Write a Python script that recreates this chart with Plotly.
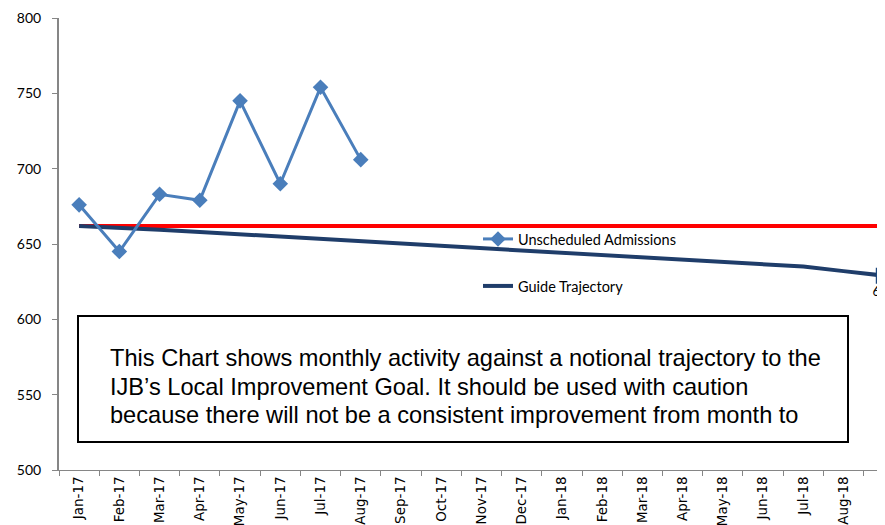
import plotly.graph_objects as go

months = [
    "Jan-17", "Feb-17", "Mar-17", "Apr-17", "May-17", "Jun-17", "Jul-17",
    "Aug-17", "Sep-17", "Oct-17", "Nov-17", "Dec-17", "Jan-18", "Feb-18",
    "Mar-18", "Apr-18", "May-18", "Jun-18", "Jul-18", "Aug-18", "Sep-18",
]
admissions = [676, 645, 683, 679, 745, 690, 754, 706]
trajectory = [
    662, 661, 659.5, 658, 656.5, 655, 653.5, 652, 650.5, 649, 647.5,
    646, 644.5, 643, 641.5, 640, 638.5, 637, 635, 632, 629,
]
goal = [662] * len(months)
note_lines = [
    "This Chart shows monthly activity against a notional trajectory to the",
    "IJB\u2019s Local Improvement Goal. It should be used with caution",
    "because there will not be a consistent improvement from month to",
]

# the page body adds an 8px margin, so the figure starts 8px in
OFF = 8
W, H = 885 - OFF, 525 - OFF
L, T = 59 - OFF, 18 - OFF
B = H - (470 - OFF)
pw, ph = W - L, H - T - B


def px(x):
    return (x - OFF - L) / pw


def py(y):
    return (H - B - (y - OFF)) / ph


fig = go.Figure()
fig.add_trace(go.Scatter(
    x=months, y=goal, mode="lines", showlegend=False,
    line={"color": "#FF0000", "width": 4},
))
fig.add_trace(go.Scatter(
    x=months, y=trajectory, mode="lines", name="Guide Trajectory",
    line={"color": "#1F3D6A", "width": 4}, legend="legend2",
))
fig.add_trace(go.Scatter(
    x=months[-1:], y=trajectory[-1:], mode="markers+text", showlegend=False,
    text=[str(v) for v in trajectory[-1:]], textposition="bottom center",
    textfont={"family": "Lato, sans-serif", "size": 13, "color": "#000"},
    marker={"symbol": "square", "size": 16, "color": "#1F497D"},
    cliponaxis=False,
))
fig.add_trace(go.Scatter(
    x=months[:len(admissions)], y=admissions, mode="lines+markers",
    name="Unscheduled Admissions",
    line={"color": "#4A7EBB", "width": 3},
    marker={"symbol": "diamond", "size": 12, "color": "#4A7EBB"},
))

fig.add_shape(
    type="rect", xref="paper", yref="paper",
    x0=px(78), x1=px(848), y0=py(442), y1=py(316),
    line={"color": "#000", "width": 2}, fillcolor="white", layer="above",
)
for i, line in enumerate(note_lines):
    fig.add_annotation(
        xref="paper", yref="paper", x=px(108), y=py(358 + 28.5 * i),
        xanchor="left", yanchor="middle", showarrow=False, text=line,
        font={"family": "Liberation Sans, Arial", "size": 23.6, "color": "#000"},
    )

legend_style = dict(
    xanchor="left", yanchor="middle", bgcolor="rgba(0,0,0,0)",
    font={"family": "Lato, sans-serif", "size": 14.5, "color": "#000"},
    itemwidth=30,
)
fig.update_layout(
    width=W, height=H,
    margin={"l": L, "r": 0, "t": T, "b": B, "pad": 0},
    plot_bgcolor="white", paper_bgcolor="white",
    legend={**legend_style, "x": px(478), "y": py(239)},
    legend2={**legend_style, "x": px(478), "y": py(286)},
    xaxis={
        "type": "category", "range": [-0.5, 20.03], "tickson": "boundaries",
        "showgrid": False, "showline": True, "linecolor": "#868686", "linewidth": 1,
        "ticks": "outside", "ticklen": 5, "tickcolor": "#868686",
        "tickangle": -90, "automargin": False,
        "tickfont": {"family": "DejaVu Sans, sans-serif", "size": 13.5, "color": "#000"},
    },
    yaxis={
        "range": [500, 800], "dtick": 50, "showgrid": False, "zeroline": False,
        "showline": True, "linecolor": "#868686", "linewidth": 2,
        "ticks": "outside", "ticklen": 5, "tickcolor": "#868686",
        "ticklabelstandoff": 8, "automargin": False,
        "tickfont": {"family": "Lato, sans-serif", "size": 14, "color": "#000"},
    },
)

fig.write_html("out.html")
